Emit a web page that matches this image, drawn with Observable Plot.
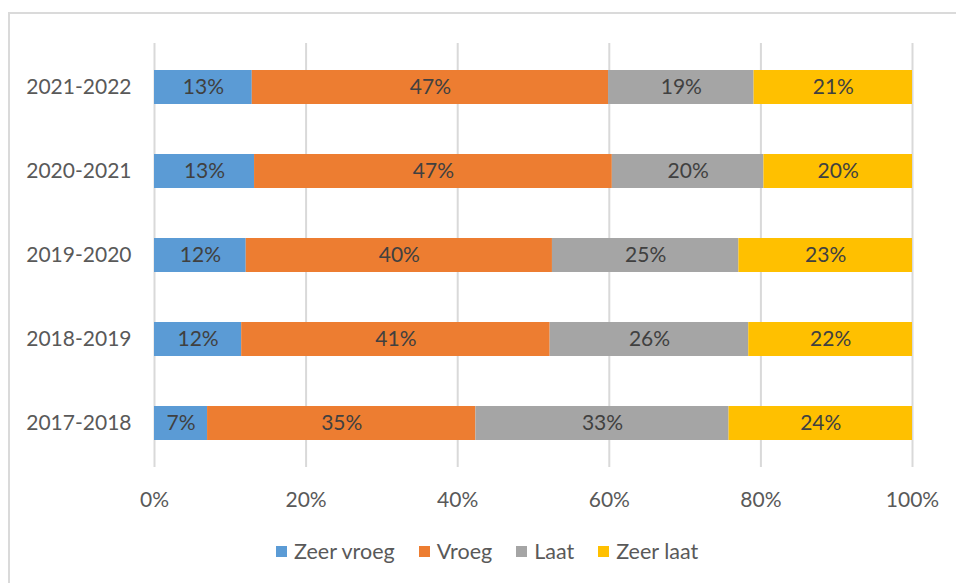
<!DOCTYPE html>
<html>
<head>
<meta charset="utf-8">
<script src="https://cdn.jsdelivr.net/npm/d3@7"></script>
<script src="https://cdn.jsdelivr.net/npm/@observablehq/plot@0.6"></script>
<style>
  html, body { margin: 0; padding: 0; background: #fff; overflow: hidden; }
  #frame { position: absolute; left: 8px; top: 12px; width: 1000px; height: 620px; border: 2px solid #dadada; box-sizing: border-box; }
  #chart { position: absolute; left: 0; top: 0; }
  #legend { position: absolute; left: 276px; top: 538px; display: flex; align-items: center; font-family: Lato, "Open Sans", sans-serif; font-size: 21.5px; color: #595959; }
  #legend .item { display: flex; align-items: center; margin-right: 24px; }
  #legend .sw { width: 11px; height: 11px; margin-right: 7px; }
</style>
</head>
<body>
<div id="frame"></div>
<div id="chart"></div>
<div id="legend"></div>
<script>
const years = ["2021-2022", "2020-2021", "2019-2020", "2018-2019", "2017-2018"];
const categories = ["Zeer vroeg", "Vroeg", "Laat", "Zeer laat"];
const colors = ["#5b9bd5", "#ed7d31", "#a5a5a5", "#ffc000"];
const zeerVroeg = [12.9, 13.2, 12.1, 11.5, 7.0];
const vroeg     = [47.0, 47.2, 40.4, 40.7, 35.4];
const laat      = [19.2, 20.0, 24.6, 26.2, 33.4];
const zeerLaat  = [20.9, 19.6, 22.9, 21.6, 24.2];
const xTicks = [0, 20, 40, 60, 80, 100];

const series = [zeerVroeg, vroeg, laat, zeerLaat];
const data = [];
years.forEach((y, i) => {
  categories.forEach((c, j) => data.push({year: y, cat: c, value: series[j][i]}));
});

const font = "Lato, 'Open Sans', sans-serif";
const chart = Plot.plot({
  width: 956,
  height: 530,
  marginLeft: 154,
  marginRight: 44,
  marginTop: 43,
  marginBottom: 63,
  style: {fontFamily: font, fontSize: "21px", color: "#595959", background: "transparent"},
  x: {domain: [0, 100], ticks: xTicks, tickFormat: d => d + "%", tickSize: 0, tickPadding: 25, label: null},
  y: {domain: years, paddingInner: 0.6, paddingOuter: 0.3, tickSize: 0, tickPadding: 23, label: null},
  color: {domain: categories, range: colors},
  marks: [
    Plot.gridX(xTicks, {stroke: "#d9d9d9", strokeOpacity: 1, strokeWidth: 2}),
    Plot.barX(data, Plot.stackX({x: "value", y: "year", fill: "cat", z: "cat"})),
    Plot.textX(data, Plot.stackX({x: "value", y: "year", z: "cat", text: d => Math.round(d.value) + "%", fill: "#404040", fontSize: 21}))
  ]
});
document.getElementById("chart").appendChild(chart);

const leg = document.getElementById("legend");
const cs = chart.scale("color");
cs.domain.forEach((c, i) => {
  const item = document.createElement("div");
  item.className = "item";
  const sw = document.createElement("div");
  sw.className = "sw";
  sw.style.background = cs.range[i];
  const t = document.createElement("span");
  t.textContent = c;
  item.appendChild(sw);
  item.appendChild(t);
  leg.appendChild(item);
});
</script>
</body>
</html>
